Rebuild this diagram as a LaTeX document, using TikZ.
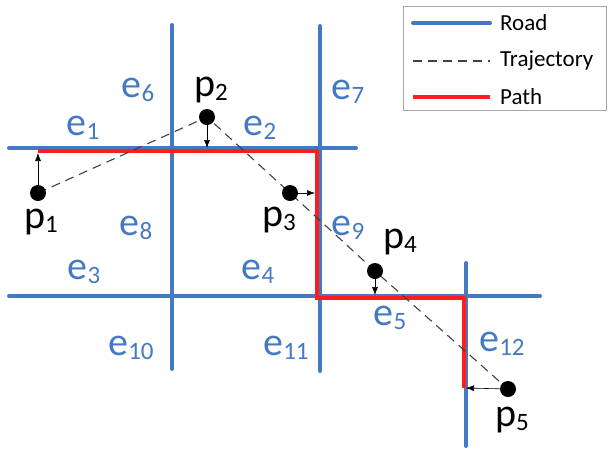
\documentclass[tikz,border=0pt]{standalone}
\usepackage{fontspec}
\setmainfont{Carlito}
\usetikzlibrary{arrows.meta}
\definecolor{roadblue}{RGB}{68,121,196}
\definecolor{pathred}{RGB}{255,28,28}
\definecolor{trajgray}{RGB}{64,64,64}
\newcommand\lbl[2]{#1\raisebox{-4pt}{\fontsize{25}{25}\selectfont #2}}

\begin{document}
\begin{tikzpicture}[x=1pt,y=-1pt,
  road/.style={draw=roadblue,line width=4pt,line cap=round},
  route/.style={draw=pathred,line width=4pt},
  traj/.style={draw=trajgray,line width=1.1pt,dash pattern=on 9pt off 6pt},
  snap/.style={-{Latex[length=8pt,width=6pt]},line width=0.6pt},
  dot/.style={circle,fill=black,inner sep=0pt,minimum size=16pt},
  elabel/.style={text=roadblue,font=\fontsize{40}{40}\selectfont,inner sep=0pt},
  plabel/.style={text=black,font=\fontsize{40}{40}\selectfont,inner sep=0pt},
  legtext/.style={anchor=west,font=\fontsize{23}{23}\selectfont,inner sep=0pt}
]
\useasboundingbox (0,0) rectangle (608,451);
% roads
\coordinate (h1w) at (9,148);  \coordinate (h1e) at (356,148);
\coordinate (h2w) at (9,296);  \coordinate (h2e) at (540,296);
\coordinate (v1n) at (172,25); \coordinate (v1s) at (172,369);
\coordinate (v2n) at (320,26); \coordinate (v2s) at (320,371);
\coordinate (v3n) at (466,263); \coordinate (v3s) at (466,446);
\draw[road] (h1w) -- (h1e);
\draw[road] (h2w) -- (h2e);
\draw[road] (v1n) -- (v1s);
\draw[road] (v2n) -- (v2s);
\draw[road] (v3n) -- (v3s);
% matched path
\coordinate (r0) at (38,151); \coordinate (r1) at (317,151);
\coordinate (r2) at (317,298); \coordinate (r3) at (464,298);
\coordinate (r4) at (464,388);
\draw[route,line join=miter] (r0) -- (r1) -- (r2) -- (r3) -- (r4);
% gps points
\coordinate (p1) at (38,193);  \coordinate (p2) at (207,117);
\coordinate (p3) at (290,193); \coordinate (p4) at (375,271);
\coordinate (p5) at (508,389);
\draw[traj] (p1) -- (p2) -- (p3) -- (p4) -- (p5);
\node[dot] (d1) at (p1) {};
\node[dot] (d2) at (p2) {};
\node[dot] (d3) at (p3) {};
\node[dot] (d4) at (p4) {};
\node[dot] (d5) at (p5) {};
\coordinate (s1) at (38,153);  \coordinate (s2) at (207,148);
\coordinate (s3) at (315,193); \coordinate (s4) at (375,295);
\coordinate (s5) at (466,388);
\draw[snap] (d1) -- (s1);
\draw[snap] (d2) -- (s2);
\draw[snap] (d3) -- (s3);
\draw[snap] (d4) -- (s4);
\draw[snap] (d5) -- (s5);
\node[plabel] (n1) at (41,222) {\lbl{p}{1}};
\node[plabel] (n2) at (211,90) {\lbl{p}{2}};
\node[plabel] (n3) at (279,220) {\lbl{p}{3}};
\node[plabel] (n4) at (400,242) {\lbl{p}{4}};
\node[plabel] (n5) at (512,420) {\lbl{p}{5}};
% edge ids
\node[elabel] (e1) at (83,128) {\lbl{e}{1}};
\node[elabel] (e2) at (260,128) {\lbl{e}{2}};
\node[elabel] (e3) at (84,272) {\lbl{e}{3}};
\node[elabel] (e4) at (258,272) {\lbl{e}{4}};
\node[elabel] (e5) at (390,318) {\lbl{e}{5}};
\node[elabel] (e6) at (138,90) {\lbl{e}{6}};
\node[elabel] (e7) at (348,92) {\lbl{e}{7}};
\node[elabel] (e8) at (136,228) {\lbl{e}{8}};
\node[elabel] (e9) at (348,228) {\lbl{e}{9}};
\node[elabel] (e10) at (131,348) {\lbl{e}{10}};
\node[elabel] (e11) at (286,348) {\lbl{e}{11}};
\node[elabel] (e12) at (502,344) {\lbl{e}{12}};
% legend
\node[draw=black!35,line width=1pt,minimum width=203pt,minimum height=104pt,anchor=north west] (leg) at (403,6) {};
\coordinate (la) at (413,23); \coordinate (lb) at (490,23);
\coordinate (lc) at (413,61); \coordinate (ld) at (490,61);
\coordinate (le) at (413,97); \coordinate (lf) at (490,97);
\draw[road] (la) -- (lb);
\draw[traj] (lc) -- (ld);
\draw[route] (le) -- (lf);
\node[legtext] (tr) at (500,23) {Road};
\node[legtext] (tt) at (500,61) {Trajectory};
\node[legtext] (tp) at (500,97) {Path};
\end{tikzpicture}
\end{document}
